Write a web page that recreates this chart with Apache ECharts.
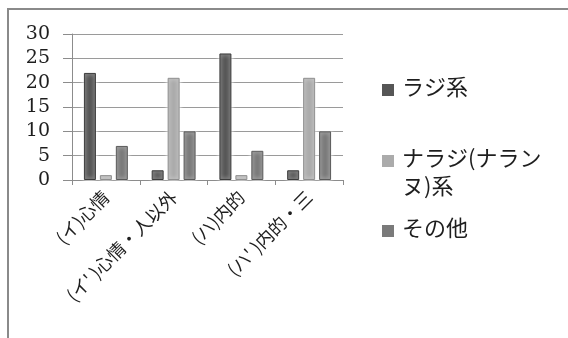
<!DOCTYPE html>
<html>
<head>
<meta charset="utf-8">
<script src="https://cdn.jsdelivr.net/npm/echarts@6/dist/echarts.min.js"></script>
<style>
  html, body { margin: 0; padding: 0; background: #fff; }
  #chart { width: 568px; height: 338px; }
</style>
</head>
<body>
<div id="chart"></div>
<script>
// Categories and counts per response type
const categories = ['(イ)心情', '(イ\' )心情・人以外', '(ハ)内的', '(ハ\' )内的・三'];
const seriesNames = ['ラジ系', 'ナラジ(ナラン\nヌ)系', 'その他'];
const rajiValues = [22, 2, 26, 2];
const narajiValues = [1, 21, 1, 21];
const otherValues = [7, 10, 6, 10];
const yTicks = [0, 5, 10, 15, 20, 25, 30];

const colors = ['#565656', '#ababab', '#7a7a7a'];
const borders = ['#3c3c3c', '#8f8f8f', '#5a5a5a'];
const jpFont = '"Noto Sans CJK JP", sans-serif';
const numFont = '"DejaVu Serif", serif';

const chart = echarts.init(document.getElementById('chart'), null, { renderer: 'canvas' });

function barSeries(i, values) {
  return {
    name: seriesNames[i],
    type: 'bar',
    data: values,
    barWidth: 12,
    barGap: '33%',
    itemStyle: {
      color: colors[i],
      borderColor: borders[i],
      borderWidth: 1,
      shadowColor: '#ffffff',
      shadowBlur: 4
    }
  };
}

// Legend on the right: a swatch plus its (possibly wrapped) name,
// the swatch aligned with the first line of text.
const legendTops = [87, 158, 228];
const legendLineHeight = 28;
const legendGraphics = [];
seriesNames.forEach(function (name, i) {
  const lines = name.split('\n');
  legendGraphics.push({
    type: 'rect',
    silent: true,
    shape: { x: 382, y: legendTops[i] - 3, width: 12, height: 12 },
    style: { fill: colors[i] }
  });
  lines.forEach(function (line, j) {
    legendGraphics.push({
      type: 'text',
      silent: true,
      x: 402,
      y: legendTops[i] + j * legendLineHeight,
      style: {
        text: line,
        font: '22px ' + jpFont,
        fill: '#1e1e1e',
        verticalAlign: 'middle',
        align: 'left'
      }
    });
  });
});

chart.setOption({
  animation: false,
  backgroundColor: '#ffffff',
  graphic: [
    {
      type: 'text',
      silent: true,
      x: 190,
      y: -17,
      style: { text: '図４　③の結果', font: '16px ' + jpFont, fill: '#222' }
    },
    {
      type: 'rect',
      silent: true,
      shape: { x: 8, y: 9, width: 620, height: 400 },
      style: { fill: 'none', stroke: '#8a8a8a', lineWidth: 2 }
    }
  ].concat(legendGraphics),
  grid: { left: 72, right: 225, top: 34, bottom: 158 },
  xAxis: {
    type: 'category',
    data: categories,
    axisLine: { show: true, lineStyle: { color: '#8c8c8c', width: 1 } },
    axisTick: { show: true, length: 5, lineStyle: { color: '#8c8c8c' } },
    axisLabel: {
      rotate: 45,
      interval: 0,
      margin: 14,
      fontFamily: jpFont,
      fontSize: 18,
      color: '#1e1e1e'
    }
  },
  yAxis: {
    type: 'value',
    min: yTicks[0],
    max: yTicks[yTicks.length - 1],
    interval: 5,
    axisLine: { show: true, lineStyle: { color: '#8c8c8c', width: 1 } },
    axisTick: { show: true, length: 9, lineStyle: { color: '#8c8c8c' } },
    splitLine: { show: true, lineStyle: { color: '#9a9a9a', width: 1 } },
    axisLabel: {
      margin: 22,
      fontFamily: numFont,
      fontSize: 19,
      color: '#1e1e1e'
    }
  },
  series: [
    barSeries(0, rajiValues),
    barSeries(1, narajiValues),
    barSeries(2, otherValues)
  ]
});
</script>
</body>
</html>
